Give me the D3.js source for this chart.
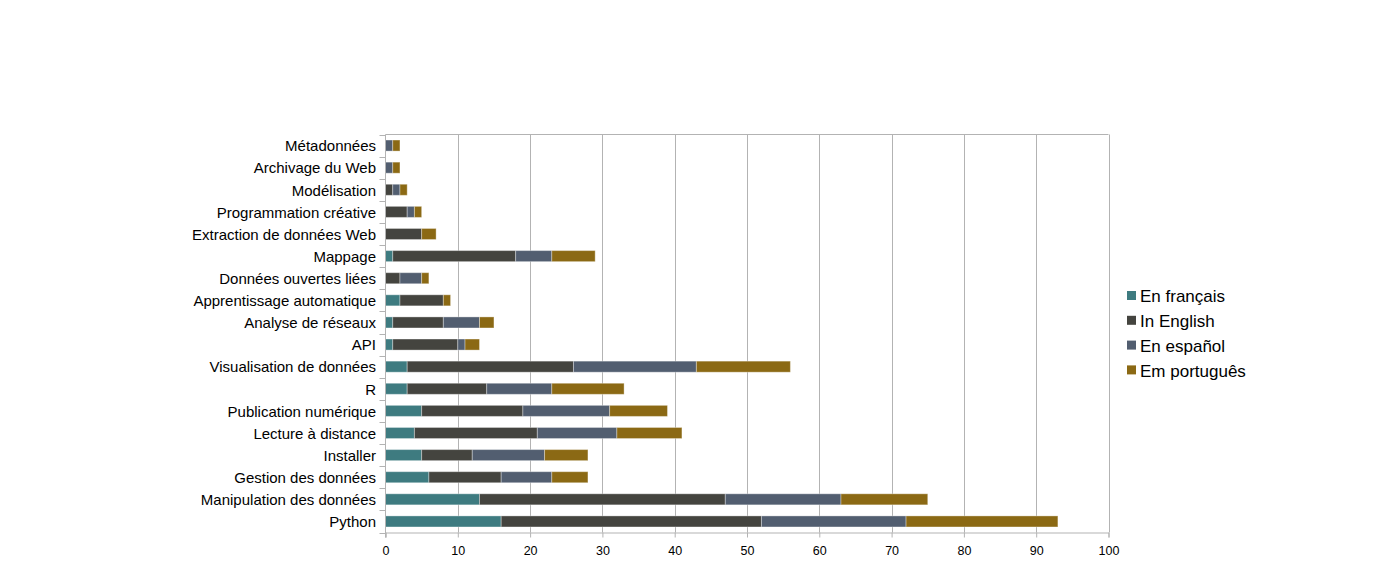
<!DOCTYPE html>
<html><head><meta charset="utf-8">
<script src="https://cdn.jsdelivr.net/npm/d3@7"></script>
<style>body{margin:0;background:#fff;}svg{display:block;font-family:"Liberation Sans",Arial,sans-serif;}</style>
</head><body>
<svg id="c" width="1388" height="588"></svg>
<script>
const categories = ["Métadonnées","Archivage du Web","Modélisation","Programmation créative","Extraction de données Web","Mappage","Données ouvertes liées","Apprentissage automatique","Analyse de réseaux","API","Visualisation de données","R","Publication numérique","Lecture à distance","Installer","Gestion des données","Manipulation des données","Python"];
const seriesNames = ["En français","In English","En español","Em português"];
const francais  = [0,0,0,0,0,1,0,2,1,1,3,3,5,4,5,6,13,16];
const english   = [0,0,1,3,5,17,2,6,7,9,23,11,14,17,7,10,34,36];
const espanol   = [1,1,1,1,0,5,3,0,5,1,17,9,12,11,10,7,16,20];
const portugues = [1,1,1,1,2,6,1,1,2,2,13,10,8,9,6,5,12,21];
const xTicks = [0,10,20,30,40,50,60,70,80,90,100];
const colors = ["#3e7b80","#44443f","#525e70","#8b6914"];

const svg = d3.select("#c");
const L = 385.5, R = 1108.5, T = 134.5, B = 532.5;
const x = d3.scaleLinear().domain([0,100]).range([L,R]);
const y = d3.scaleBand().domain(categories).range([T,B]).paddingInner(0.5).paddingOuter(0.25);
const yb = d3.scaleBand().domain(categories).range([T,B]);

const rows = categories.map((c,i)=>({cat:c, fr:francais[i], en:english[i], es:espanol[i], pt:portugues[i]}));
const stack = d3.stack().keys(["fr","en","es","pt"])(rows);

// grid
svg.append("g").selectAll("line").data(xTicks.slice(1)).join("line")
  .attr("x1",d=>Math.round(x(d))+0.5).attr("x2",d=>Math.round(x(d))+0.5)
  .attr("y1",T).attr("y2",B).attr("stroke","#b3b3b3").attr("stroke-width",1);
// frame top
svg.append("line").attr("x1",L).attr("x2",R).attr("y1",T).attr("y2",T).attr("stroke","#b3b3b3");

// bars
svg.append("g").selectAll("g").data(stack).join("g")
  .attr("fill",(d,i)=>colors[i])
  .selectAll("rect").data(d=>d.filter(p=>p[1]>p[0])).join("rect")
  .attr("x",d=>x(d[0])).attr("width",d=>x(d[1])-x(d[0]))
  .attr("y",d=>y(d.data.cat)).attr("height",y.bandwidth())
  .attr("stroke","#ffffff").attr("stroke-opacity",0.35).attr("stroke-width",1);

// x axis
const xa = svg.append("g").attr("transform",`translate(0,${B})`)
  .call(d3.axisBottom(x).tickValues(xTicks).tickSize(5).tickPadding(9).tickFormat(d3.format("d")));
xa.select(".domain").attr("stroke","#b3b3b3");
xa.selectAll(".tick line").attr("stroke","#b3b3b3");
xa.selectAll("text").attr("font-size",12.5).attr("fill","#000").attr("font-family","Liberation Sans, Arial, sans-serif");

// y axis
svg.append("line").attr("x1",L).attr("x2",L).attr("y1",T).attr("y2",B+5).attr("stroke","#b3b3b3");
const bounds = categories.map(c=>yb(c)).concat([B]);
svg.append("g").selectAll("line").data(bounds).join("line")
  .attr("x1",L-6).attr("x2",L).attr("y1",d=>Math.round(d)+0.5).attr("y2",d=>Math.round(d)+0.5).attr("stroke","#b3b3b3");
svg.append("g").selectAll("text").data(categories).join("text")
  .attr("x",376).attr("y",d=>yb(d)+yb.bandwidth()/2+0.5).attr("dy","0.35em")
  .attr("text-anchor","end").attr("font-size",15).attr("fill","#000").text(d=>d);

// legend
const lg = svg.append("g").selectAll("g").data(seriesNames).join("g")
  .attr("transform",(d,i)=>`translate(1127,${296+i*24.8})`);
lg.append("rect").attr("x",0).attr("y",-5).attr("width",9).attr("height",9).attr("fill",(d,i)=>colors[i]);
lg.append("text").attr("x",13).attr("y",0).attr("dy","0.36em").attr("font-size",17).attr("fill","#000").text(d=>d);
</script>
</body></html>
